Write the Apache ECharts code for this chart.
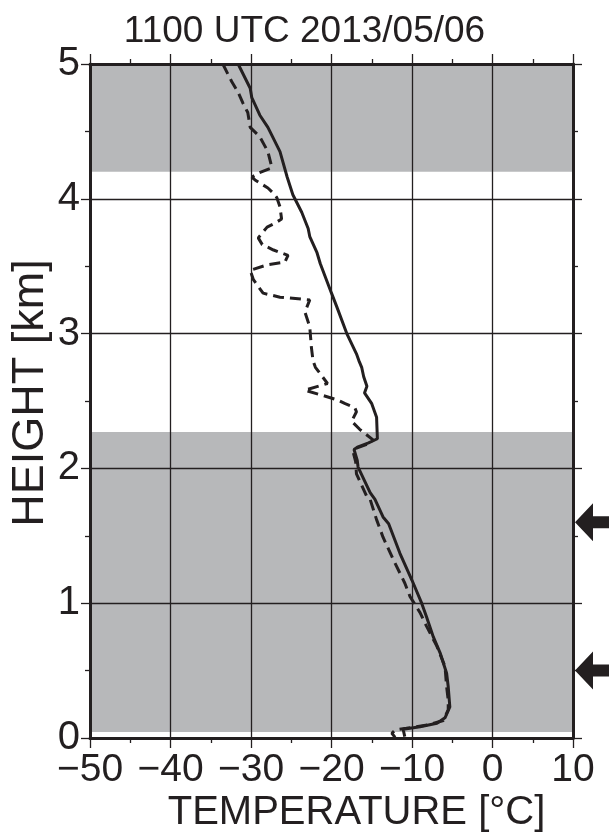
<!DOCTYPE html>
<html>
<head>
<meta charset="utf-8">
<script src="https://cdn.jsdelivr.net/npm/echarts@6/dist/echarts.min.js"></script>
<style>html,body{margin:0;padding:0;background:#fff;}#c{width:609px;height:832px;}</style>
</head>
<body>
<div id="c"></div>
<script>
const titleText = '1100 UTC 2013/05/06';
const xName = 'TEMPERATURE [°C]';
const yName = 'HEIGHT [km]';
const xTicks = [-50, -40, -30, -20, -10, 0, 10];
const yTicks = [0, 1, 2, 3, 4, 5];
// shaded layers [bottom, top] in km
const bandLow = [0.045, 2.27];
const bandHigh = [4.2, 5.0];
// arrow heights (km)
const arrowHeights = [1.6, 0.5];

// solid profile (temperature)
const solidT = [-31.6,-30.1,-29.9,-28.9,-27.9,-26.4,-25.5,-24.8,-23.7,-22.9,-22.7,-21.8,-21.4,-20.0,-19.35,-18.1,-16.9,-16.6,-16.25,-16.0,-15.6,-15.9,-15.0,-14.4,-14.3,-15.4,-16.7,-17.2,-16.8,-16.7,-15.2,-14.6,-13.6,-12.9,-11.5,-10.0,-8.8,-8.2,-7.35,-6.5,-5.7,-5.5,-5.3,-5.9,-6.9,-9.0,-11.1,-10.9];
const solidH = [5.0,4.82,4.75,4.62,4.53,4.35,4.16,4.03,3.90,3.78,3.72,3.60,3.52,3.30,3.20,3.00,2.85,2.80,2.75,2.68,2.61,2.56,2.48,2.38,2.22,2.19,2.16,2.14,2.06,2.01,1.82,1.77,1.64,1.59,1.37,1.17,1.00,0.90,0.75,0.63,0.48,0.38,0.23,0.15,0.11,0.084,0.065,0.01];

// dashed profile (dew point)
const dashT = [-33.5,-32.4,-31.6,-31.0,-30.4,-30.1,-28.9,-27.9,-27.4,-29.1,-29.9,-29.5,-27.9,-27.2,-26.8,-26.4,-26.2,-27.0,-28.0,-29.1,-28.6,-27.2,-25.4,-25.8,-28.0,-30.1,-29.7,-28.5,-26.4,-22.7,-23.3,-22.7,-22.5,-22.3,-22.0,-20.5,-23.3,-21.6,-19.35,-18.3,-17.1,-16.9,-17.5,-16.5,-14.8,-15.5,-16.9,-17.3,-17.0,-16.9,-15.6,-15.2,-14.4,-13.6,-12.3,-10.9,-10.25,-9.0,-8.2,-6.9,-5.9,-5.7,-5.5,-5.5,-6.1,-7.8,-10.7,-12.1,-12.5,-12.1];
const dashH = [5.0,4.87,4.79,4.71,4.64,4.53,4.46,4.35,4.23,4.19,4.16,4.14,4.08,4.04,4.01,3.94,3.85,3.82,3.79,3.71,3.66,3.62,3.58,3.53,3.51,3.47,3.40,3.30,3.27,3.25,3.16,3.05,2.90,2.80,2.75,2.63,2.58,2.55,2.51,2.48,2.45,2.42,2.35,2.29,2.21,2.18,2.15,2.12,2.05,1.96,1.79,1.77,1.62,1.49,1.32,1.15,1.05,0.93,0.83,0.68,0.53,0.38,0.28,0.21,0.13,0.10,0.072,0.059,0.035,0.005];

const INK = '#231f20';
const GRAY = '#b7b8ba';
const FONT = 'Liberation Sans';

const pairs = (a, b) => a.map((v, i) => [v, b[i]]);
const fmt = v => String(v).replace('-', '\u2212');

const chart = echarts.init(document.getElementById('c'), null, {renderer: 'canvas'});

const baseX = {
  type: 'value', min: xTicks[0], max: xTicks[xTicks.length - 1], interval: 10, z: 10,
  axisLine: {show: true, onZero: false, lineStyle: {color: INK, width: 3}},
  axisTick: {show: true, inside: false, length: 10, lineStyle: {color: INK, width: 1.3}},
  minorTick: {show: true, splitNumber: 2, length: 5, lineStyle: {color: INK, width: 1.3}},
};
const baseY = {
  type: 'value', min: yTicks[0], max: yTicks[yTicks.length - 1], interval: 1, z: 10,
  axisLine: {show: true, onZero: false, lineStyle: {color: INK, width: 3}},
  axisTick: {show: true, inside: false, length: 9, lineStyle: {color: INK, width: 1.3}},
  minorTick: {show: true, splitNumber: 2, length: 5, lineStyle: {color: INK, width: 1.3}},
};

chart.setOption({
  animation: false,
  backgroundColor: '#fff',
  title: {
    text: titleText, left: 'center', top: 8,
    textStyle: {fontFamily: FONT, fontSize: 37, fontWeight: 'normal', color: INK}
  },
  grid: {left: 90, right: 36, top: 64, bottom: 94, containLabel: false, outerBoundsMode: 'none'},
  xAxis: [
    Object.assign({}, baseX, {
      position: 'bottom',
      name: xName, nameLocation: 'middle', nameGap: 55, nameMoveOverlap: false,
      nameTextStyle: {fontFamily: FONT, fontSize: 40, color: INK, padding: [0, 0, 0, 50]},
      axisLabel: {show: true, margin: 13, fontFamily: FONT, fontSize: 39, color: INK, formatter: fmt},
      splitLine: {show: true, lineStyle: {color: INK, width: 1.3}}
    }),
    Object.assign({}, baseX, {
      position: 'top', axisLabel: {show: false}, splitLine: {show: false}
    })
  ],
  yAxis: [
    Object.assign({}, baseY, {
      position: 'left',
      name: yName, nameLocation: 'middle', nameGap: 37, nameMoveOverlap: false,
      nameTextStyle: {fontFamily: FONT, fontSize: 45, color: INK, padding: [0, 0, 0, 16]},
      axisLabel: {show: true, margin: 10, fontFamily: FONT, fontSize: 40, color: INK, formatter: fmt},
      splitLine: {show: true, lineStyle: {color: INK, width: 1.3}}
    }),
    Object.assign({}, baseY, {
      position: 'right', axisLabel: {show: false}, splitLine: {show: false}
    })
  ],
  series: [
    {
      name: 'bands', type: 'line', data: [], z: 1, silent: true,
      markArea: {
        silent: true,
        itemStyle: {color: GRAY, opacity: 1},
        data: [
          [{coord: [xTicks[0], bandLow[0]]}, {coord: [xTicks[xTicks.length - 1], bandLow[1]]}],
          [{coord: [xTicks[0], bandHigh[0]]}, {coord: [xTicks[xTicks.length - 1], bandHigh[1]]}]
        ]
      }
    },
    {
      name: 'dew', type: 'line', data: pairs(dashT, dashH), z: 3,
      showSymbol: false, smooth: false, silent: true,
      lineStyle: {color: INK, width: 3, type: [11, 6]}
    },
    {
      name: 'temp', type: 'line', data: pairs(solidT, solidH), z: 4,
      showSymbol: false, smooth: false, silent: true,
      lineStyle: {color: INK, width: 3},
      markPoint: {
        silent: true,
        symbol: 'path://M0 19 L18 0 L18 13 L34 13 L34 25 L18 25 L18 38 Z',
        symbolSize: [34, 38],
        symbolKeepAspect: false,
        symbolOffset: [19, 0],
        label: {show: false},
        itemStyle: {color: INK},
        data: arrowHeights.map(h => ({coord: [xTicks[xTicks.length - 1], h]}))
      }
    }
  ]
});
</script>
</body>
</html>
